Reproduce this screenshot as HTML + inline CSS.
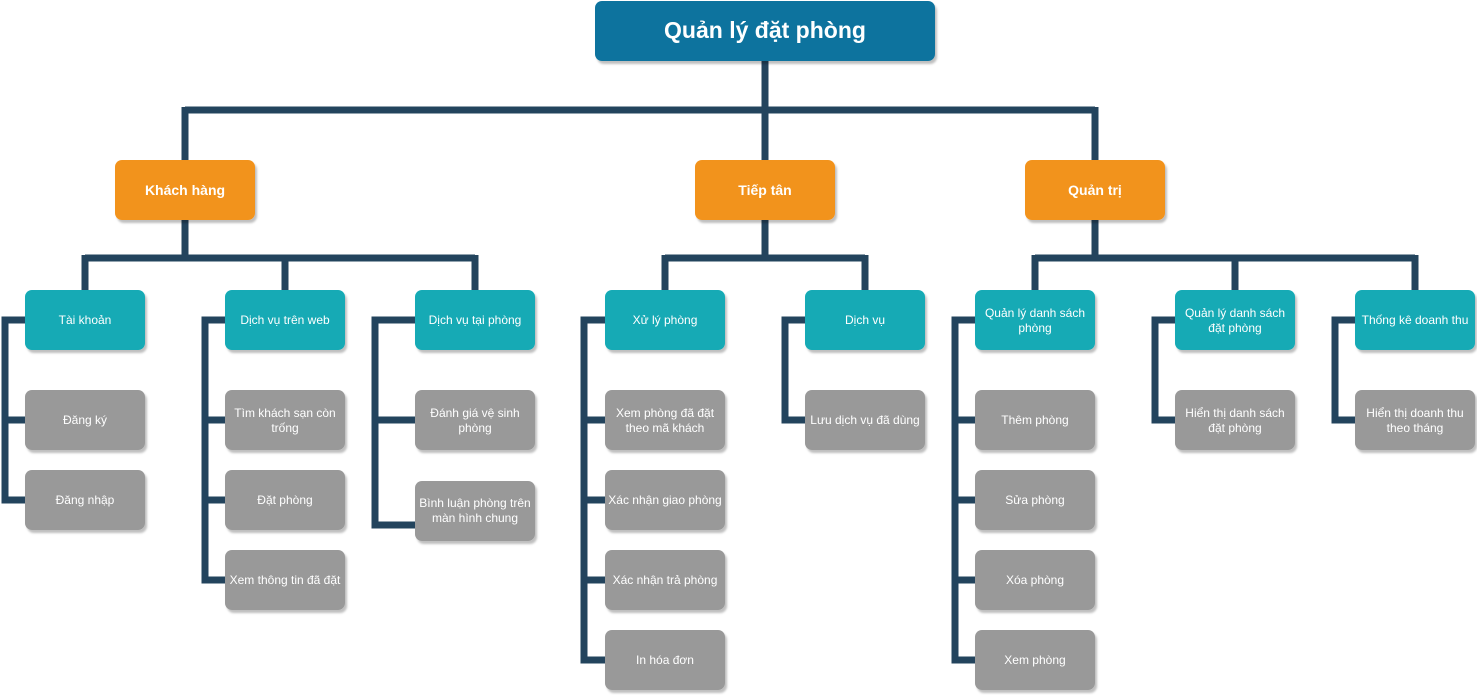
<!DOCTYPE html>
<html><head><meta charset="utf-8"><style>
html,body{margin:0;padding:0;background:#fff;}
svg text{font-family:"Liberation Sans",Arial,sans-serif;fill:#fff;text-anchor:middle;}
</style></head><body>
<svg width="1477" height="695" viewBox="0 0 1477 695" xmlns="http://www.w3.org/2000/svg">
<defs>
<filter id="sh" x="-10%" y="-10%" width="130%" height="130%"><feDropShadow dx="2" dy="3" stdDeviation="1" flood-color="#000" flood-opacity="0.25"/></filter>
</defs>
<g fill="none" stroke="#23445d" stroke-width="7">
<path d="M765 60V160 M185 110H1095 M185 107V160 M1095 107V160"/>
<path d="M185 220V258 M85 258H475 M85 255V290 M285 255V290 M475 255V290"/>
<path d="M765 220V258 M665 258H865 M665 255V290 M865 255V290"/>
<path d="M1095 220V258 M1035 258H1415 M1035 255V290 M1235 255V290 M1415 255V290"/>
<path d="M25 320H5V500H25 M5 420H25"/>
<path d="M225 320H205V580H225 M205 420H225 M205 500H225"/>
<path d="M415 320H375V525H415 M375 420H415"/>
<path d="M605 320H584V660H605 M584 420H605 M584 500H605 M584 580H605"/>
<path d="M805 320H785V420H805"/>
<path d="M975 320H955V660H975 M955 420H975 M955 500H975 M955 580H975"/>
<path d="M1175 320H1155V420H1175"/>
<path d="M1355 320H1335V420H1355"/>
</g>
<g filter="url(#sh)">
<rect x="595" y="1" width="340" height="60" rx="7" fill="#10739e"/>
<g fill="#f2931e">
<rect x="115" y="160" width="140" height="60" rx="7"/>
<rect x="695" y="160" width="140" height="60" rx="7"/>
<rect x="1025" y="160" width="140" height="60" rx="7"/>
</g>
<g fill="#12aab5">
<rect x="25" y="290" width="120" height="60" rx="7"/>
<rect x="225" y="290" width="120" height="60" rx="7"/>
<rect x="415" y="290" width="120" height="60" rx="7"/>
<rect x="605" y="290" width="120" height="60" rx="7"/>
<rect x="805" y="290" width="120" height="60" rx="7"/>
<rect x="975" y="290" width="120" height="60" rx="7"/>
<rect x="1175" y="290" width="120" height="60" rx="7"/>
<rect x="1355" y="290" width="120" height="60" rx="7"/>
</g>
<g fill="#999">
<rect x="25" y="390" width="120" height="60" rx="7"/>
<rect x="25" y="470" width="120" height="60" rx="7"/>
<rect x="225" y="390" width="120" height="60" rx="7"/>
<rect x="225" y="470" width="120" height="60" rx="7"/>
<rect x="225" y="550" width="120" height="60" rx="7"/>
<rect x="415" y="390" width="120" height="60" rx="7"/>
<rect x="415" y="481" width="120" height="60" rx="7"/>
<rect x="605" y="390" width="120" height="60" rx="7"/>
<rect x="605" y="470" width="120" height="60" rx="7"/>
<rect x="605" y="550" width="120" height="60" rx="7"/>
<rect x="605" y="630" width="120" height="60" rx="7"/>
<rect x="805" y="390" width="120" height="60" rx="7"/>
<rect x="975" y="390" width="120" height="60" rx="7"/>
<rect x="975" y="470" width="120" height="60" rx="7"/>
<rect x="975" y="550" width="120" height="60" rx="7"/>
<rect x="975" y="630" width="120" height="60" rx="7"/>
<rect x="1175" y="390" width="120" height="60" rx="7"/>
<rect x="1355" y="390" width="120" height="60" rx="7"/>
</g>
</g>
<text x="765" y="38" font-size="23" font-weight="bold">Quản lý đặt phòng</text>
<g font-size="14" font-weight="bold">
<text x="185" y="195">Khách hàng</text>
<text x="765" y="195">Tiếp tân</text>
<text x="1095" y="195">Quản trị</text>
</g>
<g font-size="12">
<text x="85" y="324">Tài khoản</text>
<text x="285" y="324">Dịch vụ trên web</text>
<text x="475" y="324">Dịch vụ tại phòng</text>
<text x="665" y="324">Xử lý phòng</text>
<text x="865" y="324">Dịch vụ</text>
<text x="1035" y="317">Quản lý danh sách</text><text x="1035" y="332">phòng</text>
<text x="1235" y="317">Quản lý danh sách</text><text x="1235" y="332">đặt phòng</text>
<text x="1415" y="324">Thống kê doanh thu</text>

<text x="85" y="424">Đăng ký</text>
<text x="85" y="504">Đăng nhập</text>
<text x="285" y="417">Tìm khách sạn còn</text><text x="285" y="432">trống</text>
<text x="285" y="504">Đặt phòng</text>
<text x="285" y="584">Xem thông tin đã đặt</text>
<text x="475" y="417">Đánh giá vệ sinh</text><text x="475" y="432">phòng</text>
<text x="475" y="507">Bình luận phòng trên</text><text x="475" y="522">màn hình chung</text>
<text x="665" y="417">Xem phòng đã đặt</text><text x="665" y="432">theo mã khách</text>
<text x="665" y="504">Xác nhận giao phòng</text>
<text x="665" y="584">Xác nhận trả phòng</text>
<text x="665" y="664">In hóa đơn</text>
<text x="865" y="424">Lưu dịch vụ đã dùng</text>
<text x="1035" y="424">Thêm phòng</text>
<text x="1035" y="504">Sửa phòng</text>
<text x="1035" y="584">Xóa phòng</text>
<text x="1035" y="664">Xem phòng</text>
<text x="1235" y="417">Hiển thị danh sách</text><text x="1235" y="432">đặt phòng</text>
<text x="1415" y="417">Hiển thị doanh thu</text><text x="1415" y="432">theo tháng</text>
</g>
</svg>
</body></html>
